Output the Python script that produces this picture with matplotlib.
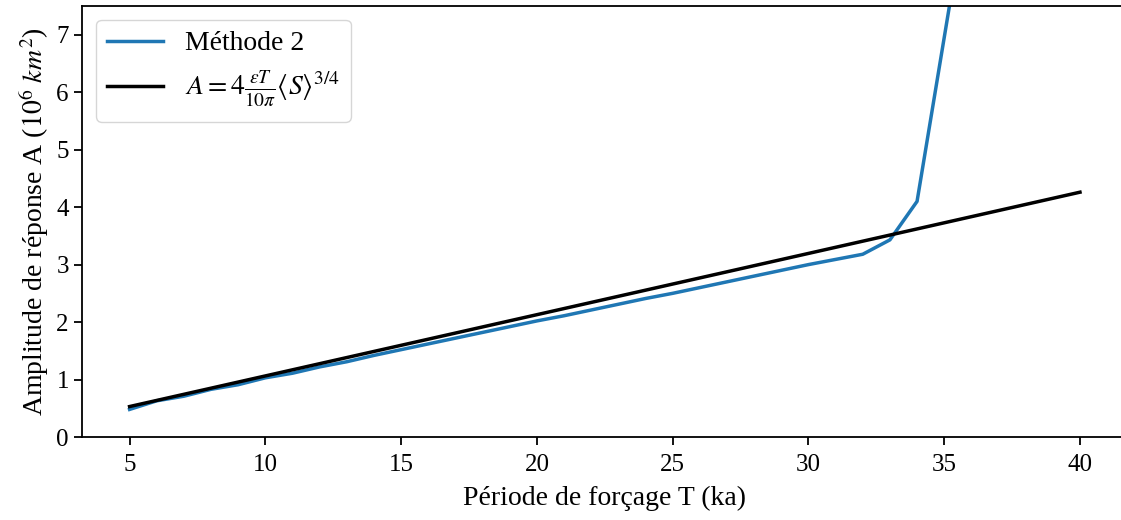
import numpy as np
import matplotlib
matplotlib.use('Agg')
import matplotlib.pyplot as plt

# Méthode 2 (amplitude en 10^6 km^2), une valeur par période T
periodes = [5, 6, 7, 8, 9, 10, 11, 12, 13, 14, 15, 16, 17, 18, 19, 20,
            21, 22, 23, 24, 25, 26, 27, 28, 29, 30, 31, 32, 33, 34, 35, 36]
amplitude_m2 = [0.48, 0.63, 0.71, 0.83, 0.91, 1.03, 1.11, 1.22, 1.31, 1.42,
                1.52, 1.62, 1.72, 1.82, 1.92, 2.02, 2.11, 2.21, 2.31, 2.41,
                2.50, 2.60, 2.70, 2.80, 2.90, 3.00, 3.09, 3.18, 3.43, 4.10,
                6.95, 9.8]

# loi théorique A = 4 eps T / (10 pi) <S>^(3/4)
periodes_theorie = [5, 40]
amplitude_theorie = [0.53, 4.26]

plt.rcParams['font.family'] = ['Liberation Serif', 'DejaVu Serif']
plt.rcParams['mathtext.fontset'] = 'stix'
plt.rcParams['font.size'] = 17

fig = plt.figure(figsize=(11.21, 5.2), dpi=100)
ax = fig.add_axes([0.0732, 0.1596, 0.9326, 0.8289])

ax.plot(periodes, amplitude_m2, color='#1f77b4', linewidth=2.5, label='Méthode 2')
ax.plot(periodes_theorie, amplitude_theorie, color='black', linewidth=2.5,
        label=r'$A = 4\frac{\varepsilon T}{10\pi}\langle S\rangle^{3/4}$')

ax.set_xlim(3.25, 41.75)
ax.set_ylim(0, 7.5)
ax.set_xticks([5, 10, 15, 20, 25, 30, 35, 40])
ax.set_yticks([0, 1, 2, 3, 4, 5, 6, 7])
ax.tick_params(width=1.3, length=6, labelsize=18)
ax.tick_params(axis='x', pad=6)
for s in ax.spines.values():
    s.set_linewidth(1.3)
ax.spines['right'].set_visible(False)

ax.set_xlabel('Période de forçage T (ka)', fontsize=20, labelpad=7)
ax.set_ylabel(r'Amplitude de réponse A ($10^6\ km^2$)', fontsize=20)
ax.legend(loc='upper left', fontsize=20, borderaxespad=0.5)

fig.savefig('out.png', dpi=100)
